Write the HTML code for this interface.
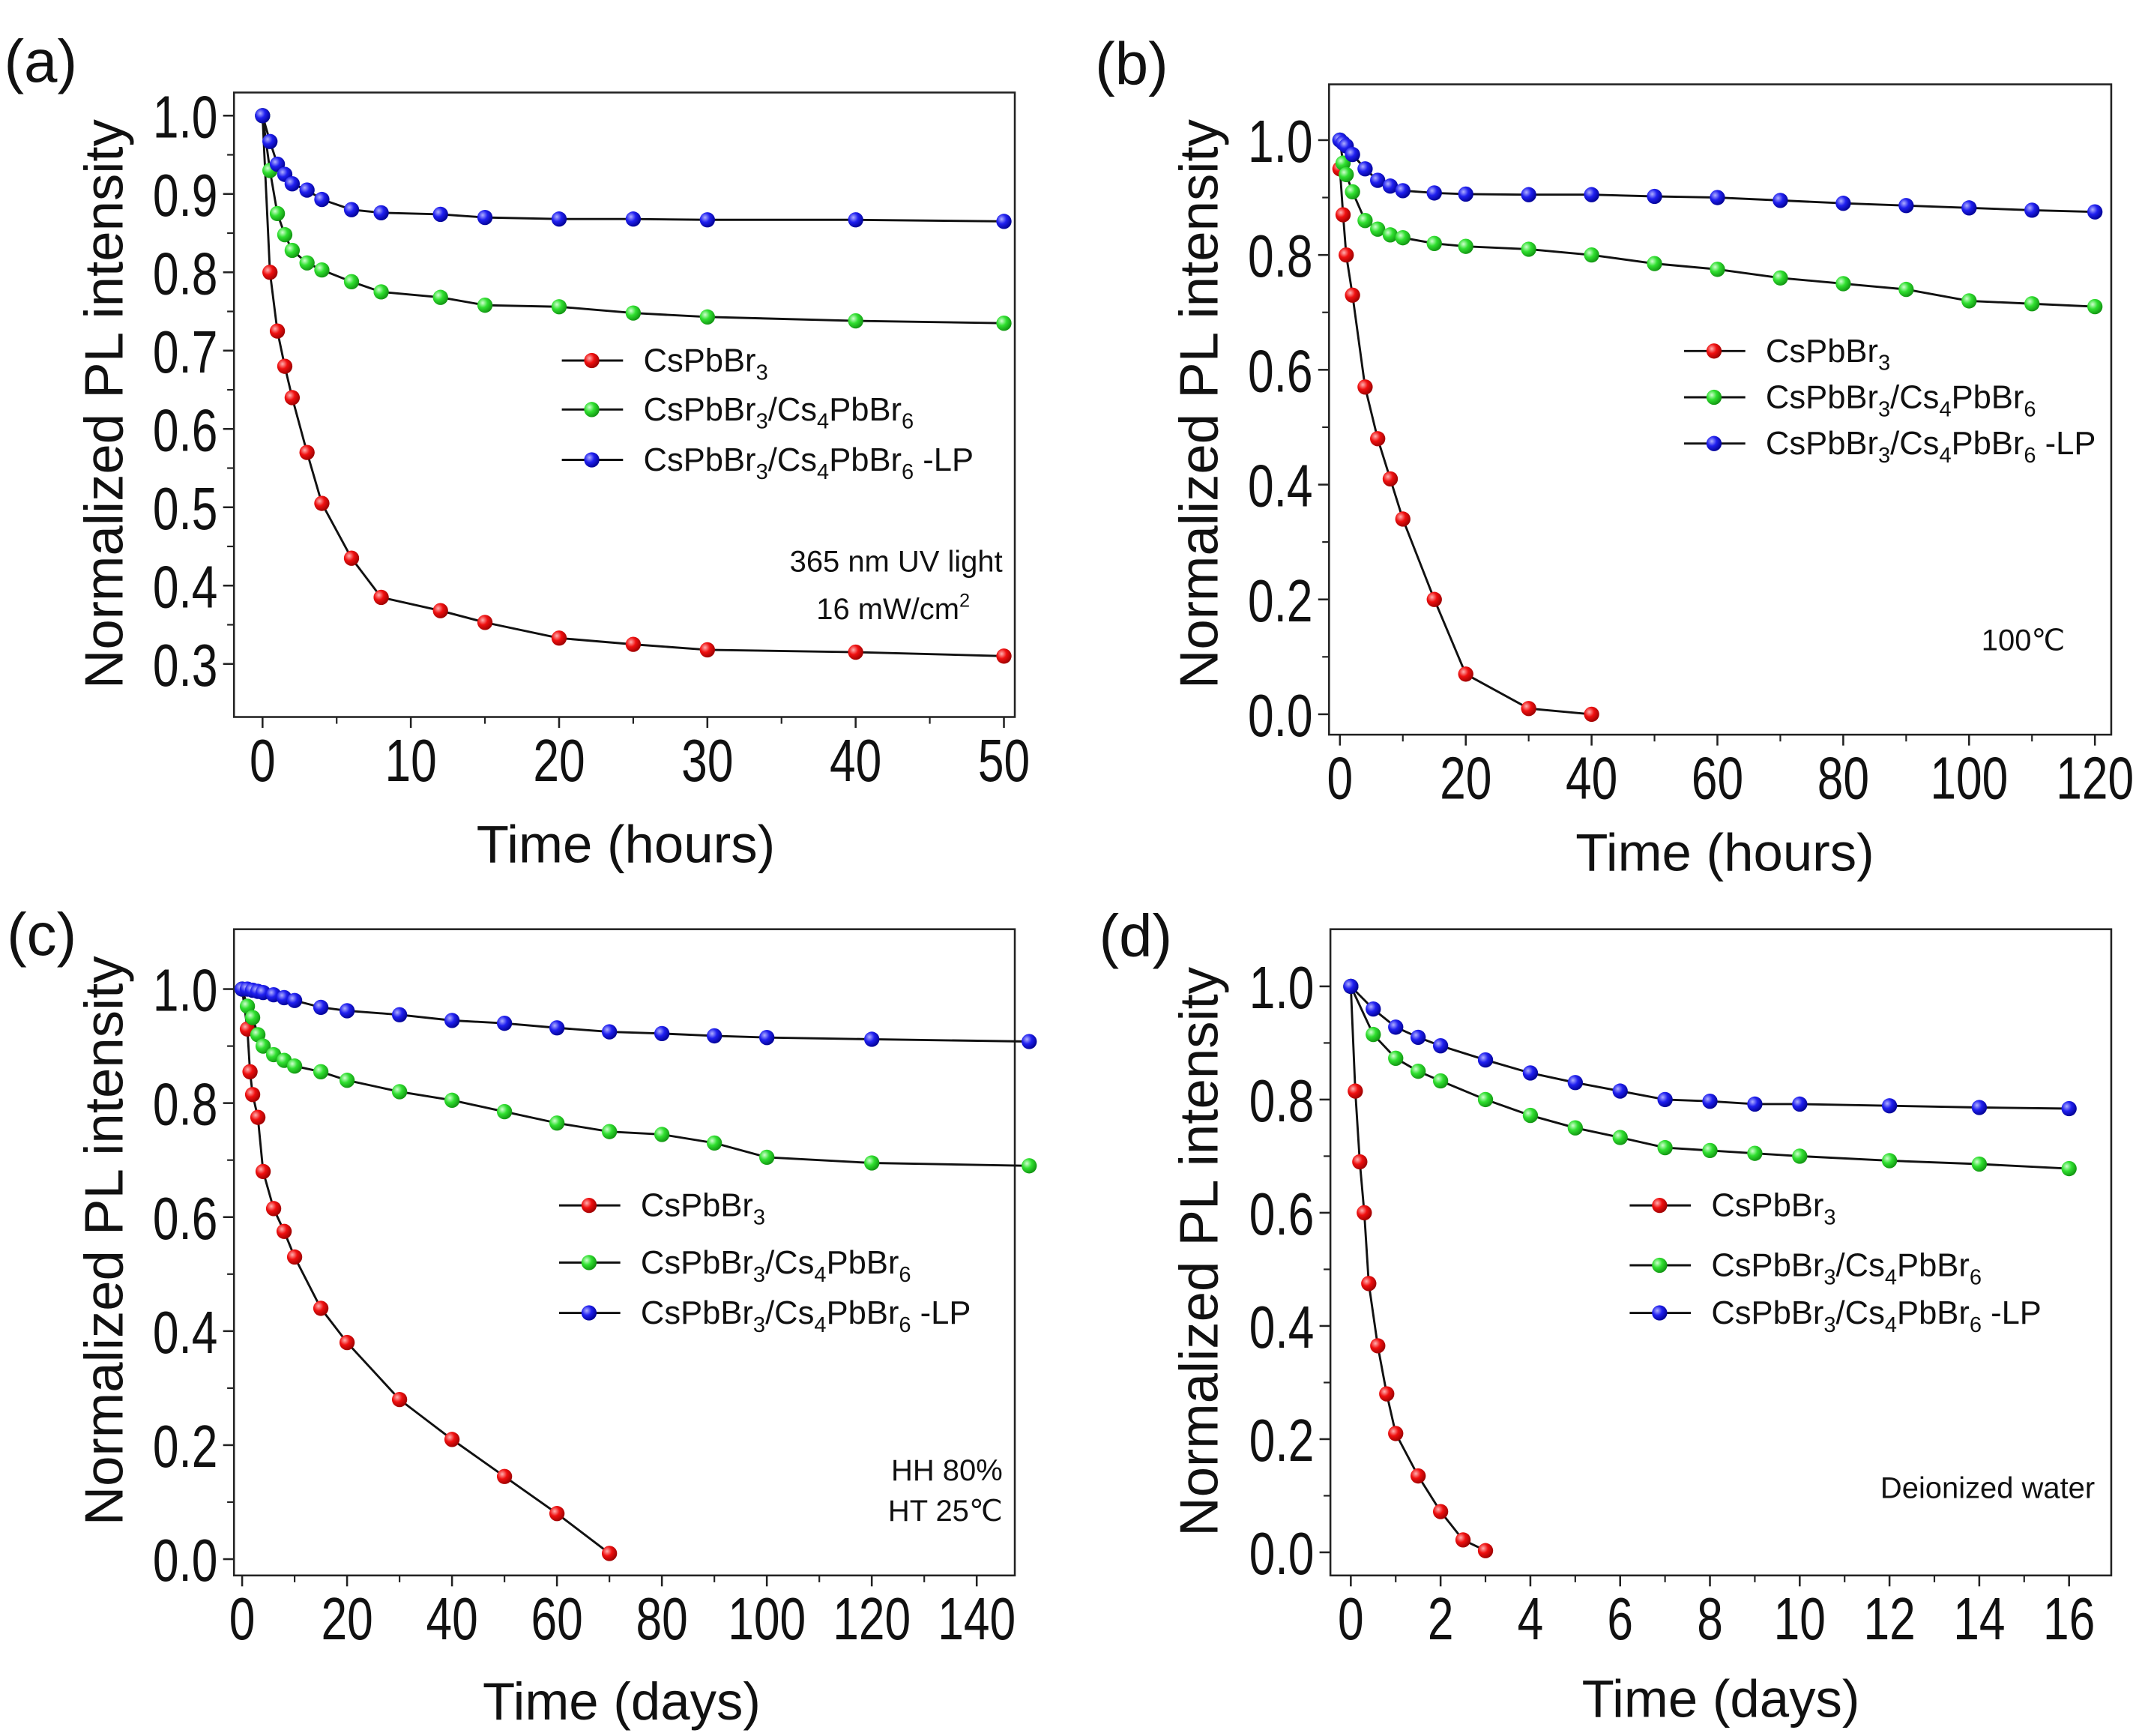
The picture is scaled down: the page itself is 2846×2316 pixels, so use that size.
<!DOCTYPE html>
<html><head><meta charset="utf-8"><style>html,body{margin:0;padding:0;background:#fff}svg{display:block}</style></head>
<body>
<svg id="fig" width="2846" height="2316" viewBox="0 0 1568 1276" preserveAspectRatio="none" xmlns="http://www.w3.org/2000/svg" font-family="Liberation Sans, Arial, sans-serif">
<defs>
<radialGradient id="gr" cx="0.35" cy="0.35" r="0.7"><stop offset="0" stop-color="#ffb0b0"/><stop offset="0.45" stop-color="#f01010"/><stop offset="1" stop-color="#900"/></radialGradient>
<radialGradient id="gg" cx="0.35" cy="0.35" r="0.7"><stop offset="0" stop-color="#d0ffd0"/><stop offset="0.45" stop-color="#30e030"/><stop offset="1" stop-color="#109010"/></radialGradient>
<radialGradient id="gb" cx="0.35" cy="0.35" r="0.7"><stop offset="0" stop-color="#b0b0ff"/><stop offset="0.45" stop-color="#2020f0"/><stop offset="1" stop-color="#000090"/></radialGradient>
</defs>
</svg>
<script>
// Panel (a)
const aX=[0,0.5,1,1.5,2,3,4,6,8,12,15,20,25,30,40,50];
const aRed=[1.0,0.80,0.725,0.68,0.64,0.57,0.505,0.435,0.385,0.368,0.353,0.333,0.325,0.318,0.315,0.31];
const aGreen=[1.0,0.93,0.875,0.848,0.828,0.812,0.803,0.788,0.775,0.768,0.758,0.756,0.748,0.743,0.738,0.735];
const aBlue=[1.0,0.967,0.938,0.925,0.913,0.905,0.893,0.88,0.876,0.874,0.87,0.868,0.868,0.867,0.867,0.865];
const aXTicks=[0,10,20,30,40,50];
const aYTicks=[0.3,0.4,0.5,0.6,0.7,0.8,0.9,1.0];
// Panel (b)
const bRedX=[0,0.5,1,2,4,6,8,10,15,20,30,40];
const bRed=[0.95,0.87,0.80,0.73,0.57,0.48,0.41,0.34,0.20,0.07,0.01,0.0];
const bX=[0,0.5,1,2,4,6,8,10,15,20,30,40,50,60,70,80,90,100,110,120];
const bGreen=[1.0,0.96,0.94,0.91,0.86,0.845,0.835,0.83,0.82,0.815,0.81,0.80,0.785,0.775,0.76,0.75,0.74,0.72,0.715,0.71];
const bBlue=[1.0,0.995,0.99,0.975,0.95,0.93,0.92,0.912,0.908,0.906,0.905,0.905,0.902,0.90,0.895,0.89,0.886,0.882,0.878,0.875];
const bXTicks=[0,20,40,60,80,100,120];
const bYTicks=[0,0.2,0.4,0.6,0.8,1.0];
// Panel (c)
const cRedX=[0,1,1.5,2,3,4,6,8,10,15,20,30,40,50,60,70];
const cRed=[1.0,0.93,0.855,0.815,0.775,0.68,0.615,0.575,0.53,0.44,0.38,0.28,0.21,0.145,0.08,0.01];
const cX=[0,1,2,3,4,6,8,10,15,20,30,40,50,60,70,80,90,100,120,150];
const cGreen=[1.0,0.97,0.95,0.92,0.90,0.885,0.875,0.865,0.855,0.84,0.82,0.805,0.785,0.765,0.75,0.745,0.73,0.705,0.695,0.69];
const cBlue=[1.0,1.0,0.998,0.996,0.994,0.99,0.985,0.98,0.968,0.962,0.955,0.945,0.94,0.932,0.925,0.922,0.918,0.915,0.912,0.908];
const cXTicks=[0,20,40,60,80,100,120,140];
const cYTicks=[0,0.2,0.4,0.6,0.8,1.0];
// Panel (d)
const dRedX=[0,0.1,0.2,0.3,0.4,0.6,0.8,1.0,1.5,2,2.5,3];
const dRed=[1.0,0.815,0.69,0.60,0.475,0.365,0.28,0.21,0.135,0.072,0.022,0.003];
const dX=[0,0.5,1,1.5,2,3,4,5,6,7,8,9,10,12,14,16];
const dGreen=[1.0,0.915,0.873,0.85,0.833,0.80,0.772,0.75,0.733,0.715,0.71,0.705,0.70,0.692,0.686,0.678];
const dBlue=[1.0,0.96,0.928,0.91,0.895,0.87,0.847,0.83,0.815,0.80,0.797,0.792,0.792,0.789,0.786,0.784];
const dXTicks=[0,2,4,6,8,10,12,14,16];
const dYTicks=[0,0.2,0.4,0.6,0.8,1.0];

const NS="http://www.w3.org/2000/svg";
const svg=document.getElementById('fig');
function mk(tag,attrs,parent){const e=document.createElementNS(NS,tag);for(const k in attrs)e.setAttribute(k,attrs[k]);(parent||svg).appendChild(e);return e;}

function panel(cfg){
  const g=mk('g',{});
  
  
  const sx=v=>cfg.x0p+(v-cfg.x0v)*(cfg.x1p-cfg.x0p)/(cfg.x1v-cfg.x0v);
  const sy=v=>cfg.y0p+(v-cfg.y0v)*(cfg.y1p-cfg.y0p)/(cfg.y1v-cfg.y0v);
  const f=cfg.frame;
  const fr=mk('rect',{x:f[0],y:f[1],width:f[2]-f[0],height:f[3]-f[1],fill:'none',stroke:'#222','stroke-width':1.4},g);
  
  
  const xt=cfg.xTicks, xs=xt[1]-xt[0];
  for(let i=0;i<xt.length;i++){
    const x=sx(xt[i]);
    mk('line',{x1:x,y1:f[3],x2:x,y2:f[3]+8,stroke:'#222','stroke-width':1.4},g);
    if(i<xt.length-1){const xm=sx(xt[i]+xs/2);mk('line',{x1:xm,y1:f[3],x2:xm,y2:f[3]+5,stroke:'#222','stroke-width':1.2},g);}
    const t=mk('text',{x:0,y:0,'font-size':44,'text-anchor':'middle',fill:'#111',transform:'translate('+x+','+(f[3]+47)+') scale(0.78,1)'},g);
    t.textContent=String(xt[i]);
    
    
  }
  const yt=cfg.yTicks, ys=yt[1]-yt[0];
  for(let i=0;i<yt.length;i++){
    const y=sy(yt[i]);
    mk('line',{x1:f[0],y1:y,x2:f[0]-8,y2:y,stroke:'#222','stroke-width':1.4},g);
    if(i<yt.length-1){const ym=sy(yt[i]+ys/2);mk('line',{x1:f[0],y1:ym,x2:f[0]-5,y2:ym,stroke:'#222','stroke-width':1.2},g);}
    const t=mk('text',{x:0,y:0,'font-size':44,'text-anchor':'end',fill:'#111',transform:'translate('+(f[0]-12)+','+(y+16)+') scale(0.78,1)'},g);
    t.textContent=yt[i].toFixed(1);
    
    
  }
  const series=[[cfg.redX,cfg.red,'url(#gr)','red'],[cfg.gX,cfg.green,'url(#gg)','green'],[cfg.gX,cfg.blue,'url(#gb)','blue']];
  for(const s of series){
    const pts=s[0].map((v,i)=>sx(v)+','+sy(s[1][i])).join(' ');
    const pl=mk('polyline',{points:pts,fill:'none',stroke:'#111','stroke-width':1.6},g);
    
    
    for(let i=0;i<s[0].length;i++){
      const c=mk('circle',{cx:sx(s[0][i]),cy:sy(s[1][i]),r:5.6,fill:s[2]},g);
      
      
    }
  }
  const L=cfg.leg, labels=[
    '<tspan>CsPbBr</tspan><tspan font-size="16" dy="6">3</tspan>',
    '<tspan>CsPbBr</tspan><tspan font-size="16" dy="6">3</tspan><tspan dy="-6">/Cs</tspan><tspan font-size="16" dy="6">4</tspan><tspan dy="-6">PbBr</tspan><tspan font-size="16" dy="6">6</tspan>',
    '<tspan>CsPbBr</tspan><tspan font-size="16" dy="6">3</tspan><tspan dy="-6">/Cs</tspan><tspan font-size="16" dy="6">4</tspan><tspan dy="-6">PbBr</tspan><tspan font-size="16" dy="6">6</tspan><tspan dy="-6"> -LP</tspan>'];
  const fills=['url(#gr)','url(#gg)','url(#gb)'];
  const names=['legend-entry-cspbbr3','legend-entry-cspbbr3-cs4pbbr6','legend-entry-cspbbr3-cs4pbbr6-lp'];
  for(let i=0;i<3;i++){
    const y=L.ys[i];
    const eg=mk('g',{},g);
    
    
    mk('line',{x1:L.x,y1:y,x2:L.x+45,y2:y,stroke:'#111','stroke-width':1.6},eg);
    mk('circle',{cx:L.x+22,cy:y,r:5.6,fill:fills[i]},eg);
    const t=mk('text',{x:L.x+60,y:y+8,'font-size':24,fill:'#111'},eg);
    t.innerHTML=labels[i];
  }
  for(const a of cfg.notes){
    const t=mk('text',{x:a[0],y:a[1],'font-size':22,'text-anchor':'end',fill:'#111'},g);
    t.innerHTML=a[2];
    
    
  }
  const xtT=mk('text',{x:cfg.xt[0],y:cfg.xt[1],'font-size':39,'text-anchor':'middle',fill:'#111'},g);
  xtT.textContent=cfg.xtitle;
  
  
  const ytT=mk('text',{x:0,y:0,'font-size':40,'text-anchor':'middle',fill:'#111',transform:'translate('+cfg.yt[0]+','+cfg.yt[1]+') rotate(-90)'},g);
  ytT.textContent='Normalized PL intensity';
  
  
  const pT=mk('text',{x:cfg.pl[0],y:cfg.pl[1],'font-size':44,fill:'#111'},g);
  pT.textContent='('+cfg.id+')';
  
  
}

panel({id:'a',frame:[172,68,746,527],x0v:0,x0p:193,x1v:50,x1p:738,y0v:1.0,y0p:85,y1v:0.3,y1p:488,
  xTicks:aXTicks,yTicks:aYTicks,redX:aX,red:aRed,gX:aX,green:aGreen,blue:aBlue,
  leg:{x:413,ys:[265,301,338]},notes:[[737,420,'365 nm UV light'],[713,455,'16 mW/cm<tspan font-size="14" dy="-9">2</tspan>']],
  xt:[460,634],xtitle:'Time (hours)',yt:[90,297],pl:[3,60]});
panel({id:'b',frame:[977,62,1552,540],x0v:0,x0p:985,x1v:120,x1p:1540,y0v:0,y0p:525,y1v:1.0,y1p:103,
  xTicks:bXTicks,yTicks:bYTicks,redX:bRedX,red:bRed,gX:bX,green:bGreen,blue:bBlue,
  leg:{x:1238,ys:[258,292,326]},notes:[[1518,478,'100℃']],
  xt:[1268,640],xtitle:'Time (hours)',yt:[895,297],pl:[805,62]});
panel({id:'c',frame:[172,683,746,1158],x0v:0,x0p:178,x1v:140,x1p:718,y0v:0,y0p:1146,y1v:1.0,y1p:727,
  xTicks:cXTicks,yTicks:cYTicks,redX:cRedX,red:cRed,gX:cX,green:cGreen,blue:cBlue,
  leg:{x:411,ys:[886,928,965]},notes:[[737,1088,'HH 80%'],[737,1118,'HT 25℃']],
  xt:[457,1264],xtitle:'Time (days)',yt:[90,912],pl:[5,702]});
panel({id:'d',frame:[978,683,1552,1158],x0v:0,x0p:993,x1v:16,x1p:1521,y0v:0,y0p:1141,y1v:1.0,y1p:725,
  xTicks:dXTicks,yTicks:dYTicks,redX:dRedX,red:dRed,gX:dX,green:dGreen,blue:dBlue,
  leg:{x:1198,ys:[886,930,965]},notes:[[1540,1101,'Deionized water']],
  xt:[1265,1262],xtitle:'Time (days)',yt:[895,920],pl:[808,703]});
</script>
</body></html>
